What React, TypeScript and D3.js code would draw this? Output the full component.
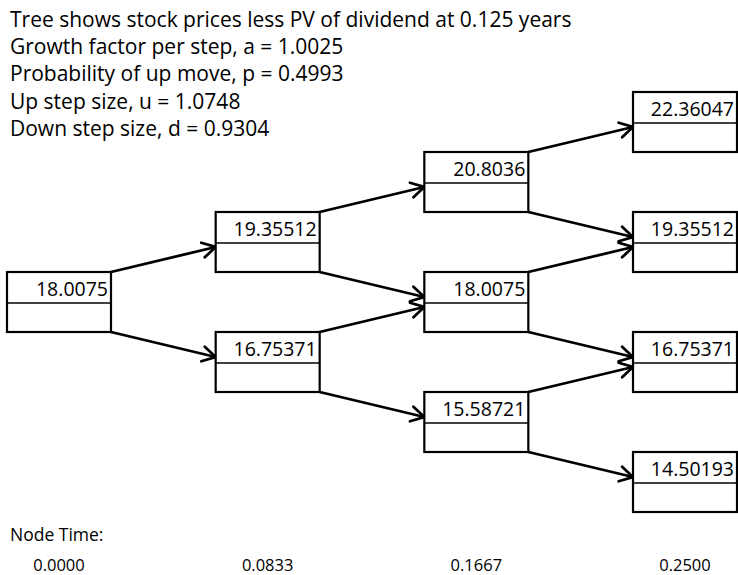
import React from "react";
import * as d3 from "d3";

const headerLines = [
  "Tree shows stock prices less PV of dividend at 0.125 years",
  "Growth factor per step, a = 1.0025",
  "Probability of up move, p = 0.4993",
  "Up step size, u = 1.0748",
  "Down step size, d = 0.9304",
];

const nodeTimeLabel = "Node Time:";
const nodeTimes = ["0.0000", "0.0833", "0.1667", "0.2500"];

const nodeValues: string[][] = [
  ["18.0075"],
  ["19.35512", "16.75371"],
  ["20.8036", "18.0075", "15.58721"],
  ["22.36047", "19.35512", "16.75371", "14.50193"],
];

const W = 738;
const H = 575;
const BOX_W = 104;
const BOX_H = 60;
const UPPER_H = 31;
const FONT = "'Open Sans', Lato, sans-serif";

export default function App() {
  const nSteps = nodeValues.length - 1;
  const x = d3.scaleLinear().domain([0, nSteps]).range([7, 633]);
  const y = d3.scaleLinear().domain([0, 2 * nSteps]).range([92, 452]);
  const slot = (i: number, j: number) => nSteps - i + 2 * j;

  const nodes = nodeValues.flatMap((col, i) =>
    col.map((v, j) => ({ i, j, v, x0: x(i), y0: y(slot(i, j)) }))
  );

  const arrows: { x1: number; y1: number; x2: number; y2: number }[] = [];
  nodeValues.forEach((col, i) => {
    if (i === nSteps) return;
    col.forEach((_, j) => {
      const x1 = x(i) + BOX_W;
      const x2 = x(i + 1);
      const top = y(slot(i, j));
      const upTop = y(slot(i + 1, j));
      arrows.push({ x1, y1: top, x2, y2: upTop + 35 });
      const dnTop = y(slot(i + 1, j + 1));
      arrows.push({ x1, y1: top + BOX_H, x2, y2: dnTop + 25 });
    });
  });

  const head = (a: { x1: number; y1: number; x2: number; y2: number }) => {
    const ang = Math.atan2(a.y2 - a.y1, a.x2 - a.x1);
    const L = 15;
    const s = Math.PI / 6;
    const p1 = [a.x2 - L * Math.cos(ang - s), a.y2 - L * Math.sin(ang - s)];
    const p2 = [a.x2 - L * Math.cos(ang + s), a.y2 - L * Math.sin(ang + s)];
    return `M${p1[0]},${p1[1]}L${a.x2},${a.y2}L${p2[0]},${p2[1]}`;
  };

  return (
    <svg
      width={W}
      height={H}
      style={{ position: "absolute", left: 0, top: 0, background: "#fff" }}
      fontFamily={FONT}
    >
      <rect x={0} y={0} width={W} height={H} fill="#fff" />
      {headerLines.map((t, k) => (
        <text key={k} x={10} y={27 + 27.2 * k} fontSize={21} fill="#000">
          {t}
        </text>
      ))}
      {arrows.map((a, k) => (
        <g key={k} stroke="#000" fill="none" strokeWidth={2.8} strokeLinecap="round" strokeLinejoin="miter">
          <line x1={a.x1} y1={a.y1} x2={a.x2} y2={a.y2} />
          <path d={head(a)} />
        </g>
      ))}
      {nodes.map((n, k) => (
        <g key={k}>
          <rect x={n.x0} y={n.y0} width={BOX_W} height={BOX_H} fill="#fff" stroke="#000" strokeWidth={2.2} />
          <line x1={n.x0} x2={n.x0 + BOX_W} y1={n.y0 + UPPER_H} y2={n.y0 + UPPER_H} stroke="#000" strokeWidth={1.5} />
          <text x={n.x0 + BOX_W - 3} y={n.y0 + 24} textAnchor="end" fontSize={19.5} fill="#000">
            {n.v}
          </text>
        </g>
      ))}
      <text x={10} y={541} fontSize={17.5} fill="#000">{nodeTimeLabel}</text>
      {nodeTimes.map((t, i) => (
        <text key={i} x={x(i) + BOX_W / 2} y={571} textAnchor="middle" fontSize={16.5} fill="#000">
          {t}
        </text>
      ))}
    </svg>
  );
}
